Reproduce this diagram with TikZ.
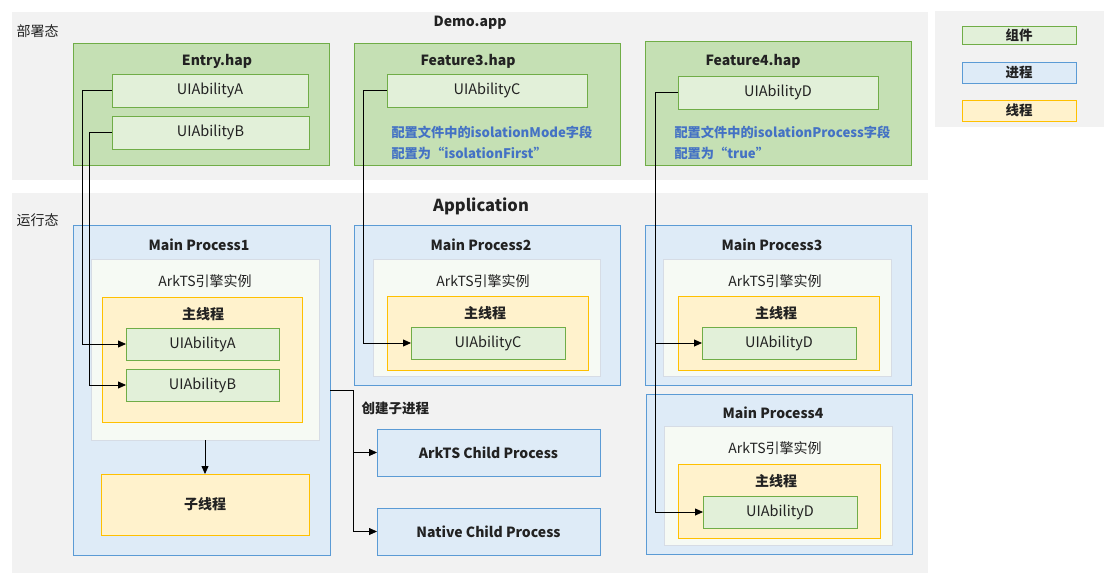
\documentclass[tikz,border=0pt]{standalone}
\usepackage{fontspec}
\setmainfont{Noto Sans CJK SC}
\usepackage{xcolor}
\usepackage{tikz}
\usetikzlibrary{arrows.meta}

\definecolor{bandgray}{HTML}{F2F2F2}
\definecolor{hapfill}{HTML}{C5E0B4}
\definecolor{hapline}{HTML}{70AD47}
\definecolor{abfill}{HTML}{E2F0D9}
\definecolor{procfill}{HTML}{DEEBF7}
\definecolor{procline}{HTML}{5B9BD5}
\definecolor{enginefill}{HTML}{F6FAF4}
\definecolor{engineline}{HTML}{D6DCE5}
\definecolor{threadfill}{HTML}{FFF2CC}
\definecolor{threadline}{HTML}{FFC000}
\definecolor{notecolor}{HTML}{4472C4}
\definecolor{txt}{HTML}{222222}

\tikzset{
	box/.style={rectangle, anchor=north west, inner sep=0pt, outer sep=0pt, line width=0.9pt, text=txt},
	grayband/.style={box, fill=bandgray},
	hapbox/.style={box, draw=hapline, fill=hapfill},
	abilitybox/.style={box, draw=hapline, fill=abfill, font=\fontsize{14.5}{17}\selectfont},
	procbox/.style={box, draw=procline, fill=procfill},
	enginebox/.style={box, draw=engineline, fill=enginefill},
	threadbox/.style={box, draw=threadline, fill=threadfill},
	title/.style={text=txt, font=\fontsize{14}{17}\selectfont\bfseries},
	plain/.style={text=txt, font=\fontsize{14}{17}\selectfont},
	note/.style={anchor=west, text=notecolor, font=\fontsize{13.2}{15}\selectfont\bfseries},
	arr/.style={-{Triangle[length=8pt,width=7pt]}, line width=0.8pt},
}

\begin{document}
\begin{tikzpicture}[x=1pt,y=-1pt]
	\useasboundingbox (0,0) rectangle (1111,583);
	% background bands
	\node[grayband, minimum width=916, minimum height=168] (deploy) at (12,12) {};
	\node[grayband, minimum width=916, minimum height=380] (run) at (12,193) {};
	\node[grayband, minimum width=169, minimum height=116] (legend) at (935,11) {};
	\node[plain, anchor=west] (deployT) at (13,31) {部署态};
	\node[plain, anchor=west] (runT) at (13,220) {运行态};
	\node[title] (demoT) at (470,23) {Demo.app};
	\node[title, font=\fontsize{16.5}{19}\selectfont\bfseries] (appT) at (481,206) {Application};

	% legend
	\node[abilitybox, minimum width=114, minimum height=18, font=\fontsize{13.5}{15}\selectfont\bfseries] (lgComp) at (962,26) {组件};
	\node[procbox, minimum width=114, minimum height=21, font=\fontsize{13.5}{15}\selectfont\bfseries] (lgProc) at (962,62) {进程};
	\node[threadbox, minimum width=114, minimum height=21, font=\fontsize{13.5}{15}\selectfont\bfseries] (lgThread) at (962,100) {线程};

	% hap packages
	\node[hapbox, minimum width=256, minimum height=122] (entry) at (73,43) {};
	\node[title] (entryT) at (217,61) {Entry.hap};
	\node[abilitybox, minimum width=196, minimum height=33] (hA) at (112,74) {UIAbilityA};
	\node[abilitybox, minimum width=197, minimum height=33] (hB) at (112,116) {UIAbilityB};

	\node[hapbox, minimum width=266, minimum height=122] (feat3) at (354,43) {};
	\node[title] (feat3T) at (468,61) {Feature3.hap};
	\node[abilitybox, minimum width=200, minimum height=33] (hC) at (387,74) {UIAbilityC};
	\node[note] (note3a) at (388,132) {配置文件中的isolationMode字段};
	\node[note] (note3b) at (388,153) {配置为“isolationFirst”};

	\node[hapbox, minimum width=266, minimum height=124] (feat4) at (645,41) {};
	\node[title] (feat4T) at (753,61) {Feature4.hap};
	\node[abilitybox, minimum width=200, minimum height=33] (hD) at (678,76) {UIAbilityD};
	\node[note] (note4a) at (671,132) {配置文件中的isolationProcess字段};
	\node[note] (note4b) at (671,153) {配置为“true”};

	% main process 1
	\node[procbox, minimum width=257, minimum height=330] (mp1) at (73,225) {};
	\node[title] (mp1T) at (199,245) {Main Process1};
	\node[enginebox, minimum width=228, minimum height=181] (eng1) at (91,259) {};
	\node[plain] (eng1T) at (205,281) {ArkTS引擎实例};
	\node[threadbox, minimum width=200, minimum height=125] (th1) at (102,297) {};
	\node[title] (th1T) at (203,314) {主线程};
	\node[abilitybox, minimum width=153, minimum height=32] (pA) at (126,328) {UIAbilityA};
	\node[abilitybox, minimum width=153, minimum height=32] (pB) at (126,369) {UIAbilityB};
	\node[threadbox, minimum width=208, minimum height=61, font=\fontsize{14}{17}\selectfont\bfseries] (sub1) at (101,474) {子线程};

	% main process 2
	\node[procbox, minimum width=266, minimum height=160] (mp2) at (354,225) {};
	\node[title] (mp2T) at (481,245) {Main Process2};
	\node[enginebox, minimum width=227, minimum height=117] (eng2) at (373,259) {};
	\node[plain] (eng2T) at (483,281) {ArkTS引擎实例};
	\node[threadbox, minimum width=201, minimum height=74] (th2) at (387,296) {};
	\node[title] (th2T) at (485,313) {主线程};
	\node[abilitybox, minimum width=154, minimum height=32] (pC) at (411,327) {UIAbilityC};

	% child processes
	\node[plain, anchor=west, font=\fontsize{13.5}{15}\selectfont\bfseries] (childT) at (358,408) {创建子进程};
	\node[procbox, minimum width=223, minimum height=47, font=\fontsize{14}{17}\selectfont\bfseries] (arkChild) at (377,429) {ArkTS Child Process};
	\node[procbox, minimum width=223, minimum height=47, font=\fontsize{14}{17}\selectfont\bfseries] (natChild) at (377,508) {Native Child Process};

	% main process 3
	\node[procbox, minimum width=266, minimum height=160] (mp3) at (645,225) {};
	\node[title] (mp3T) at (772,245) {Main Process3};
	\node[enginebox, minimum width=228, minimum height=117] (eng3) at (663,259) {};
	\node[plain] (eng3T) at (775,281) {ArkTS引擎实例};
	\node[threadbox, minimum width=201, minimum height=74] (th3) at (678,296) {};
	\node[title] (th3T) at (776,313) {主线程};
	\node[abilitybox, minimum width=154, minimum height=32] (pD3) at (702,327) {UIAbilityD};

	% main process 4
	\node[procbox, minimum width=266, minimum height=160] (mp4) at (646,394) {};
	\node[title] (mp4T) at (773,413) {Main Process4};
	\node[enginebox, minimum width=228, minimum height=119] (eng4) at (664,426) {};
	\node[plain] (eng4T) at (775,448) {ArkTS引擎实例};
	\node[threadbox, minimum width=202, minimum height=74] (th4) at (678,464) {};
	\node[title] (th4T) at (776,481) {主线程};
	\node[abilitybox, minimum width=154, minimum height=32] (pD4) at (703,496) {UIAbilityD};

	% connectors
	\draw[arr] (hA.west) -- ++(-30,0) |- (pA.west);
	\draw[arr] (hB.west) -- ++(-23,0) |- (pB.west);
	\draw[arr] (hC.west) -- ++(-24,0) |- (pC.west);
	\draw[arr] (hD.west) -- ++(-23,0) |- (pD3.west);
	\draw[arr] (hD.west) -- ++(-23,0) |- (pD4.west);
	\draw[arr] (eng1.south) -- (sub1.north -| eng1.south);
	\draw[arr] (mp1.east) -- ++(23,0) |- (arkChild.west);
	\draw[arr] (mp1.east) -- ++(23,0) |- (natChild.west);
\end{tikzpicture}
\end{document}
